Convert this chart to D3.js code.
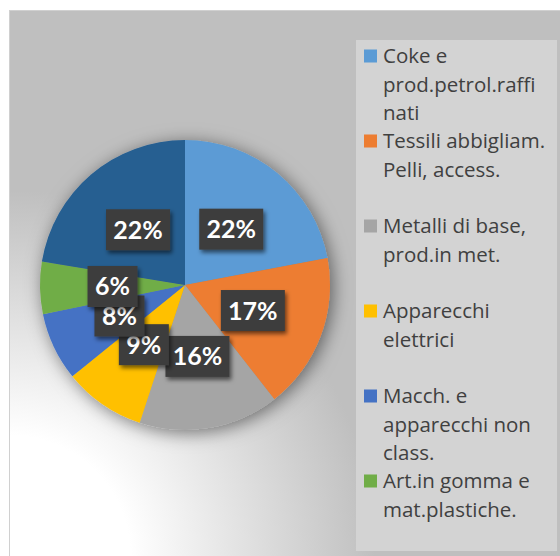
<!DOCTYPE html>
<html>
<head>
<meta charset="utf-8">
<script src="https://cdn.jsdelivr.net/npm/d3@7"></script>
<style>
  body { margin: 0; background: #fff; }
  svg { display: block; }
</style>
</head>
<body>
<svg></svg>
<script>
var categories = ["Coke e prod.petrol.raffinati", "Tessili abbigliam. Pelli, access.", "Metalli di base, prod.in met.",
  "Apparecchi elettrici", "Macch. e apparecchi non class.", "Art.in gomma e mat.plastiche.", "Altri settori"];
var legendLines = [["Coke e", "prod.petrol.raffi", "nati"], ["Tessili abbigliam.", "Pelli, access."],
  ["Metalli di base,", "prod.in met."], ["Apparecchi", "elettrici"], ["Macch. e", "apparecchi non", "class."],
  ["Art.in gomma e", "mat.plastiche."], ["Altri settori"]];
var values = [22.0, 17.4, 15.6, 9.1, 7.6, 5.8, 22.4];
var colors = ["#5b9bd5", "#ed7d31", "#a5a5a5", "#ffc000", "#4472c4", "#70ad47", "#255e91"];

var svgWidth = 560, svgHeight = 556;
var cx = 185, cy = 285, radius = 145;
var labelFont = "Lato, 'Open Sans', sans-serif";
var legendFont = "'Open Sans', sans-serif";
var legTop = 40, legHeight = 511, legStep = 85;

var svg = d3.select("svg")
  .attr("width", svgWidth)
  .attr("height", svgHeight);

var defs = svg.append("defs");

var grad = defs.append("radialGradient")
  .attr("id", "bg")
  .attr("gradientUnits", "userSpaceOnUse")
  .attr("cx", 10).attr("cy", 556).attr("r", 430);
grad.append("stop").attr("offset", "0").attr("stop-color", "#ffffff");
grad.append("stop").attr("offset", "0.28").attr("stop-color", "#ffffff");
grad.append("stop").attr("offset", "0.85").attr("stop-color", "#bfbfbf");
grad.append("stop").attr("offset", "1").attr("stop-color", "#bfbfbf");

var pieShadow = defs.append("filter").attr("id", "pieShadow")
  .attr("x", "-30%").attr("y", "-30%").attr("width", "160%").attr("height", "160%");
pieShadow.append("feDropShadow")
  .attr("dx", 3).attr("dy", 3).attr("stdDeviation", 9)
  .attr("flood-color", "#000").attr("flood-opacity", 0.5);

var boxShadow = defs.append("filter").attr("id", "boxShadow")
  .attr("x", "-30%").attr("y", "-30%").attr("width", "160%").attr("height", "160%");
boxShadow.append("feDropShadow")
  .attr("dx", 2).attr("dy", 3).attr("stdDeviation", 2)
  .attr("flood-color", "#000").attr("flood-opacity", 0.55);

// chart area
svg.append("rect")
  .attr("x", 9.5).attr("y", 10.5)
  .attr("width", svgWidth).attr("height", svgHeight)
  .attr("fill", "url(#bg)")
  .attr("stroke", "#d0d0d0");

// legend box
svg.append("rect")
  .attr("x", 356).attr("y", legTop)
  .attr("width", 201).attr("height", legHeight)
  .attr("fill", "#d3d3d3");

var pie = d3.pie().sort(null).value(function(d) { return d; });
var arcs = pie(values);
var arc = d3.arc().innerRadius(0).outerRadius(radius);
var total = d3.sum(values);

var g = svg.append("g").attr("transform", "translate(" + cx + "," + cy + ")");

g.append("g")
  .attr("filter", "url(#pieShadow)")
  .selectAll("path")
  .data(arcs)
  .enter()
  .append("path")
  .attr("d", arc)
  .attr("fill", function(d, i) { return colors[i]; });

var labels = g.selectAll(".lbl")
  .data(arcs)
  .enter()
  .append("g")
  .attr("class", "lbl")
  .attr("transform", function(d) {
    return "translate(" + arc.centroid(d) + ")";
  });

labels.append("rect")
  .attr("x", function(d) { return Math.round(d.value / total * 100) >= 10 ? -32 : -25; })
  .attr("width", function(d) { return Math.round(d.value / total * 100) >= 10 ? 64 : 50; })
  .attr("y", -20.5)
  .attr("height", 41)
  .attr("fill", "#3d3d3d")
  .attr("filter", "url(#boxShadow)");

labels.append("text")
  .text(function(d) { return Math.round(d.value / total * 100) + "%"; })
  .attr("text-anchor", "middle")
  .attr("dy", "0.36em")
  .attr("font-family", labelFont)
  .attr("font-weight", "bold")
  .attr("font-size", "25px")
  .attr("fill", "#fff");

// legend: entries that don't fit in the box are dropped, like the original
var legendItems = categories.map(function(c, i) { return i; })
  .filter(function(i) { return legTop + 16 + i * legStep + 14 < legTop + legHeight; });

var legend = svg.append("g")
  .selectAll("g")
  .data(legendItems)
  .enter()
  .append("g")
  .attr("transform", function(i) { return "translate(364," + (legTop + 16 + i * legStep) + ")"; });

legend.append("rect")
  .attr("x", 0).attr("y", -6.5)
  .attr("width", 13).attr("height", 13)
  .attr("fill", function(i) { return colors[i]; });

legend.append("text")
  .attr("font-family", legendFont)
  .attr("font-size", "20.5px")
  .attr("fill", "#404040")
  .selectAll("tspan")
  .data(function(i) { return legendLines[i]; })
  .enter()
  .append("tspan")
  .attr("x", 19)
  .attr("y", function(d, j) { return j * 28.5; })
  .attr("dy", "0.35em")
  .text(function(d) { return d; });
</script>
</body>
</html>
